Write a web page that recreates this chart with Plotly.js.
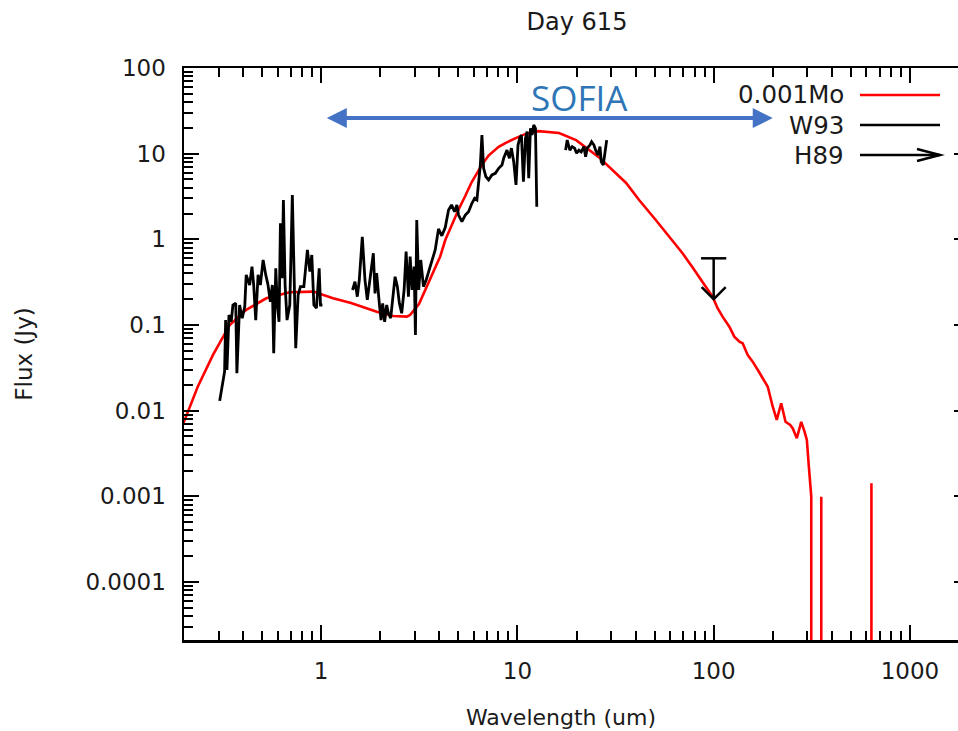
<!DOCTYPE html>
<html><head><meta charset="utf-8">
<script src="https://cdn.plot.ly/plotly-3.0.1.min.js"></script>
<style>html,body{margin:0;padding:0;overflow:hidden;background:#fff}#chart{width:975px;height:731px}</style>
</head><body><div id="chart"></div>
<script>
// ---- data ----
const modelWl = [0.197,0.235,0.281,0.342,0.415,0.525,0.692,0.91,1.15,1.42,1.92,2.33,2.73,2.84,3.15,3.59,4.04,4.29,4.55,5.0,5.42,5.86,6.57,7.13,8.02,8.68,9.8,11.0,12.8,14.5,16.3,19.9,26,35.8,41.7,50.7,61.4,69.4,77.8,87.8,98.7,104.7,111,120.2,127.4,135.2,140.5,149,158,167.6,177.8,188.6,200,209.6,220.8,232.3,245.4,253,265.3,279.3,290.4,298.4,305.5,314.3,314.3,353.4,353.4,353.4,636.5,636.5,636.5];
const modelFlux = [0.0068,0.019,0.0447,0.100,0.150,0.205,0.241,0.245,0.205,0.181,0.143,0.127,0.125,0.131,0.175,0.335,0.63,0.98,1.35,2.2,3.2,4.7,7.3,9.5,12.0,13.3,15.2,17.0,18.3,18.0,17.4,14.4,9.1,4.55,2.88,1.68,0.98,0.687,0.475,0.321,0.214,0.157,0.125,0.0955,0.0731,0.0638,0.0612,0.0447,0.0373,0.030,0.0239,0.019,0.0111,0.0078,0.0122,0.0074,0.0068,0.0062,0.00476,0.0074,0.0057,0.00455,0.00222,0.00099,1e-7,1e-7,0.00099,1e-7,1e-7,0.00142,1e-7];

const w93Wl = [0.304,0.322,0.326,0.331,0.339,0.348,0.355,0.367,0.372,0.384,0.396,0.408,0.415,0.432,0.444,0.453,0.464,0.477,0.490,0.506,0.522,0.536,0.551,0.564,0.573,0.587,0.598,0.610,0.620,0.632,0.642,0.655,0.670,0.692,0.713,0.731,0.742,0.763,0.784,0.816,0.851,0.876,0.896,0.918,0.946,0.977,0.992,1.015,
 null,
 1.445,1.487,1.528,1.564,1.620,1.672,1.718,1.774,1.844,1.881,1.917,1.978,2.019,2.057,2.106,2.157,2.200,2.260,2.314,2.380,2.445,2.503,2.572,2.646,2.709,2.784,2.840,2.908,2.977,3.022,3.069,3.142,3.217,3.320,3.428,3.564,3.679,3.811,3.962,4.119,4.287,4.457,4.617,4.783,4.914,5.012,5.212,5.425,5.638,5.862,6.051,6.217,6.343,6.471,6.593,6.726,6.909,7.133,7.416,7.719,8.024,8.343,8.511,8.848,9.100,9.318,9.574,9.835,10.07,10.27,10.48,10.73,10.99,11.20,11.42,11.65,11.87,12.11,12.36,12.55,
 null,
 17.60,17.93,18.50,19.01,19.56,20.03,20.57,21.14,21.82,22.26,22.68,23.42,23.88,24.54,25.03,25.72,26.34,26.74,27.38,27.84,28.50];
const w93Flux = [0.0130,0.0285,0.114,0.0298,0.131,0.109,0.171,0.179,0.0273,0.171,0.120,0.164,0.384,0.293,0.480,0.293,0.114,0.384,0.293,0.574,0.384,0.293,0.187,0.293,0.0468,0.459,0.171,0.109,1.54,0.351,2.88,0.293,0.114,0.171,3.29,0.143,0.0535,0.224,0.280,0.280,0.751,0.419,0.656,0.171,0.157,0.459,0.171,0.171,
 null,
 0.256,0.321,0.214,0.335,1.07,0.335,0.196,0.335,0.687,0.234,0.402,0.179,0.114,0.179,0.109,0.171,0.137,0.120,0.214,0.366,0.280,0.179,0.137,0.256,0.718,0.214,0.627,0.256,0.480,0.0764,1.68,0.256,0.574,0.280,0.335,0.439,0.574,0.751,1.32,1.10,1.37,2.20,2.52,2.10,2.52,1.92,1.61,1.92,2.10,2.63,3.01,2.88,4.71,7.37,16.5,6.75,5.38,4.93,5.64,5.90,6.75,7.37,8.83,11.0,8.83,11.6,8.06,4.31,12.6,15.1,16.5,4.71,15.1,18.1,5.16,19.8,16.5,21.6,19.8,2.40,
 null,
 11.0,14.4,11.0,12.1,11.6,10.1,11.0,10.5,12.1,9.22,11.6,12.6,13.8,12.6,11.0,9.65,12.1,8.06,7.37,10.5,14.4];

const h89Wl = [100];
const h89Limit = [0.6];
const h89ArrowFactor = 3;      // arrow drawn down from the limit by this factor

const sofiaBand = [1.05, 200];
const sofiaLevel = 26;
const sofiaLabel = 'SOFIA';

const xTickVals = [1, 10, 100, 1000];
const xTickText = ['1', '10', '100', '1000'];
const yTickVals = [0.0001, 0.001, 0.01, 0.1, 1, 10, 100];
const yTickText = ['0.0001', '0.001', '0.01', '0.1', '1', '10', '100'];
const legendNames = ['0.001Mo', 'W93', 'H89'];

// ---- helpers for styling ----
const L = Math.log10;
function minorVals(lo, hi) {
  const out = [];
  for (let e = Math.floor(L(lo)); e <= Math.ceil(L(hi)); e++) {
    for (let d = 2; d <= 9; d++) { const v = d * Math.pow(10, e); if (v >= lo && v <= hi) out.push(v); }
  }
  return out;
}
const W = 975, H = 731, ML = 184, MR = 6, MT = 68, MB = 91;
const PW = W - ML - MR, PH = H - MT - MB;
const fx = px => (px - ML) / PW;
const fy = py => (H - MB - py) / PH;

const font = 'DejaVu Sans, Liberation Sans, sans-serif';
const txt = '#1a1a1a';

const xRange = [L(0.2), L(2000)];
const yRange = [L(2.1e-5), 2];

const traces = [
  { x: modelWl, y: modelFlux, type: 'scatter', mode: 'lines', name: legendNames[0],
    line: { color: '#ff0000', width: 2.6 }, showlegend: false },
  { x: w93Wl, y: w93Flux, type: 'scatter', mode: 'lines', name: legendNames[1], connectgaps: false,
    line: { color: '#000000', width: 2.8 }, showlegend: false },
  { x: [h89Wl[0], h89Wl[0]], y: [h89Limit[0], h89Limit[0] / h89ArrowFactor], type: 'scatter', mode: 'lines',
    name: legendNames[2], line: { color: '#000', width: 2.5 }, showlegend: false },
  { x: h89Wl, y: h89Limit, type: 'scatter', mode: 'markers', showlegend: false,
    marker: { symbol: 'line-ew-open', size: 18, color: '#000', line: { color: '#000', width: 2.5 } } }
];

const legendY = [95, 125, 155];
const shapes = [
  // H89 arrow head (anchored at the arrow tip in data coordinates)
  { type: 'path', xref: 'x', yref: 'y', xsizemode: 'pixel', ysizemode: 'pixel',
    xanchor: h89Wl[0], yanchor: h89Limit[0] / h89ArrowFactor,
    path: 'M-12,12 L0,0 L12,12', line: { color: '#000', width: 2.5 } },
  // legend samples
  { type: 'line', xref: 'paper', yref: 'paper', x0: fx(860), x1: fx(940), y0: fy(legendY[0]), y1: fy(legendY[0]), line: { color: '#ff0000', width: 2.6 } },
  { type: 'line', xref: 'paper', yref: 'paper', x0: fx(860), x1: fx(940), y0: fy(legendY[1]), y1: fy(legendY[1]), line: { color: '#000', width: 2.6 } },
  { type: 'line', xref: 'paper', yref: 'paper', x0: fx(860), x1: fx(940), y0: fy(legendY[2]), y1: fy(legendY[2]), line: { color: '#000', width: 2.5 } },
  { type: 'path', xref: 'paper', yref: 'paper', xsizemode: 'pixel', ysizemode: 'pixel',
    xanchor: fx(940), yanchor: fy(legendY[2]), path: 'M-23,6 L0,0 L-23,-6', line: { color: '#000', width: 2.5 } }
];

const annotations = [
  { x: L(sofiaBand[1]), y: L(sofiaLevel), ax: L(sofiaBand[0]), ay: L(sofiaLevel), xref: 'x', yref: 'y', axref: 'x', ayref: 'y',
    text: '', showarrow: true, arrowside: 'end+start', arrowhead: 2, startarrowhead: 2, arrowsize: 1, startarrowsize: 1,
    arrowwidth: 4, arrowcolor: '#4472C4', standoff: 0, startstandoff: 0 },
  { x: fx(579), y: fy(98), xref: 'paper', yref: 'paper', text: sofiaLabel, showarrow: false,
    font: { family: 'Open Sans, Noto Sans, sans-serif', size: 35, color: '#2E75B6' }, xanchor: 'center', yanchor: 'middle' },
  // x axis title, placed where the reference has it
  { x: fx(561), y: fy(717), xref: 'paper', yref: 'paper', text: 'Wavelength (um)', showarrow: false,
    xanchor: 'center', yanchor: 'middle', font: { family: font, size: 22, color: txt } }
];
legendNames.forEach((n, i) => annotations.push({
  x: fx(846), y: fy(legendY[i]), xref: 'paper', yref: 'paper', text: n, showarrow: false,
  xanchor: 'right', yanchor: 'middle', font: { family: font, size: 24.5, color: txt }
}));

const axisCommon = {
  type: 'log', showgrid: false, zeroline: false, showline: true, linecolor: '#000', linewidth: 2.5,
  mirror: 'ticks', ticks: 'inside', ticklen: 15, tickwidth: 2, tickcolor: '#000',
  tickmode: 'array', tickfont: { family: font, size: 23, color: txt }
};

const layout = {
  width: W, height: H,
  margin: { l: ML, r: MR, t: MT, b: MB },
  paper_bgcolor: '#fff', plot_bgcolor: '#fff',
  showlegend: false,
  title: { text: 'Day 615', font: { family: font, size: 24, color: txt }, x: fx(577), xref: 'paper', xanchor: 'center', y: 1 - 22 / H, yanchor: 'middle' },
  xaxis: Object.assign({}, axisCommon, {
    range: xRange, tickvals: xTickVals, ticktext: xTickText, ticklabelstandoff: 9,
    minor: { ticks: 'inside', ticklen: 9, tickwidth: 2, tickcolor: '#000', tickmode: 'array', tickvals: minorVals(0.2, 2000), showgrid: false }
  }),
  yaxis: Object.assign({}, axisCommon, {
    range: yRange, tickvals: yTickVals, ticktext: yTickText, ticklabelstandoff: 11,
    minor: { ticks: 'inside', ticklen: 9, tickwidth: 2, tickcolor: '#000', tickmode: 'array', tickvals: minorVals(2.1e-5, 100), showgrid: false },
    title: { text: 'Flux (Jy)', font: { family: font, size: 23, color: txt }, standoff: 47 }
  }),
  shapes: shapes,
  annotations: annotations
};

Plotly.newPlot('chart', traces, layout, { staticPlot: true, displayModeBar: false });
</script>
</body></html>
